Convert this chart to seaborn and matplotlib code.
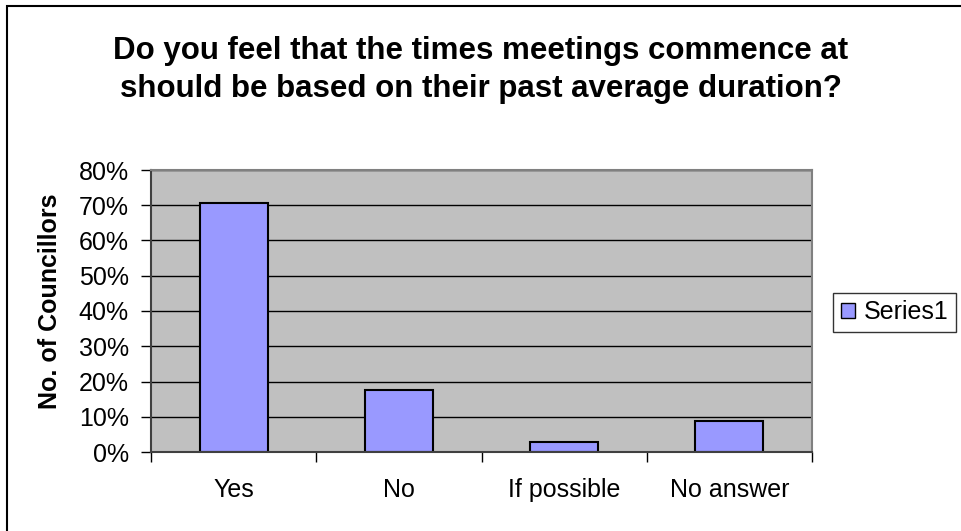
import matplotlib
matplotlib.use("Agg")
import matplotlib.pyplot as plt
import seaborn as sns
import pandas as pd
from matplotlib.patches import Rectangle, Patch
from matplotlib.ticker import FuncFormatter, MultipleLocator

categories = ["Yes", "No", "If possible", "No answer"]
values = [0.706, 0.176, 0.029, 0.088]
series_name = "Series1"
title = "Do you feel that the times meetings commence at\nshould be based on their past average duration?"
ylabel = "No. of Councillors"

df = pd.DataFrame({"cat": categories, "val": values})

sns.set_style("white")
plt.rcParams["font.family"] = ["Liberation Sans", "DejaVu Sans"]

W, H = 962, 531
fig = plt.figure(figsize=(W / 100, H / 100), dpi=100)
L, R, T, B = 151, 812, 170, 452
ax = fig.add_axes([L / W, 1 - B / H, (R - L) / W, (B - T) / H])

sns.barplot(data=df, x="cat", y="val", ax=ax, color="#9999FF",
            edgecolor="black", linewidth=1.5, width=0.41, saturation=1)
ax.set_facecolor("#C0C0C0")
ax.set_ylim(0, 0.8)
ax.set_xlim(-0.5, len(categories) - 0.5)
ax.yaxis.set_major_locator(MultipleLocator(0.1))
ax.yaxis.set_major_formatter(FuncFormatter(lambda v, p: f"{v*100:.0f}%"))
ax.grid(axis="y", color="black", linewidth=1)
ax.set_axisbelow(True)
for s in ax.spines.values():
    s.set_color("#808080")
    s.set_linewidth(1.5)
ax.spines["left"].set_color("#404040")
ax.spines["bottom"].set_color("#404040")

FS = 18
ax.tick_params(axis="y", direction="out", length=7, width=1, color="black",
               labelsize=FS, pad=9, left=True, labelcolor="black")
ax.set_xticks(range(len(categories)))
ax.set_xticklabels(categories, fontsize=FS, color="black")
ax.tick_params(axis="x", length=0, pad=19)
ax.set_xticks([i - 0.5 for i in range(len(categories) + 1)], minor=True)
ax.tick_params(axis="x", which="minor", direction="out", length=7, width=1,
               color="black", bottom=True)
ax.set_xlabel("")
ax.set_ylabel(ylabel, fontsize=FS, fontweight="bold", va="center", color="black")
ax.yaxis.set_label_coords((50 - L) / (R - L), (B - 301) / (B - T))

fig.suptitle(title, fontsize=22.5, fontweight="bold", y=1 - 70 / H, va="center",
             linespacing=1.35, color="black")

handles = [Patch(facecolor="#9999FF", edgecolor="black", linewidth=1)]
leg = fig.legend(handles, [series_name], loc="center",
                 bbox_to_anchor=(894.5 / W, 1 - 312 / H), fontsize=FS,
                 frameon=True, fancybox=False, edgecolor="black",
                 handlelength=0.55, handleheight=0.55, handletextpad=0.35,
                 borderpad=0.3, borderaxespad=0)
leg.get_frame().set_linewidth(1)
for t in leg.get_texts():
    t.set_color("black")

fig.patches.append(Rectangle((7 / W, -0.1), 1.2, 1.1 - 6 / H,
                             transform=fig.transFigure, fill=False,
                             edgecolor="black", linewidth=1.5))

fig.savefig("out.png", dpi=100)
